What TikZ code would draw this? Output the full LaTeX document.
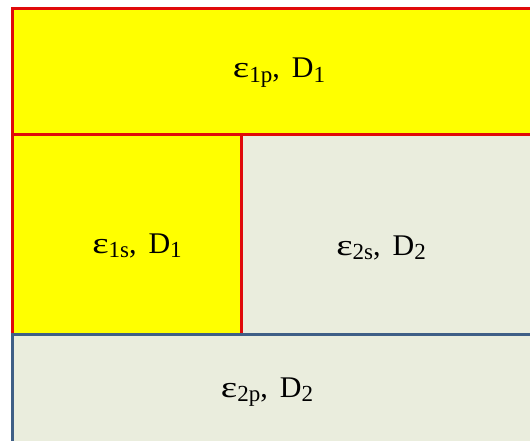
\documentclass[tikz,border=0pt]{standalone}
\usepackage{fontspec}
\setmainfont{Liberation Serif}
\usepackage{graphicx}
\usepackage{tikz}
\usetikzlibrary{positioning}

\definecolor{cellyellow}{HTML}{FFFF00}
\definecolor{cellbeige}{HTML}{EAEDDD}
\definecolor{edgered}{HTML}{E00A0A}
\definecolor{edgeblue}{HTML}{3F5F86}

% wide epsilon and lowered index
\newcommand{\epsl}{\scalebox{1.3}[1]{ε}}
\newcommand{\lowidx}[1]{\raisebox{-0.16em}{\fontsize{23}{25}\selectfont #1}}
\newcommand{\pair}[2]{\epsl\lowidx{#1},\hspace{0.4em}D\lowidx{#2}}

\begin{document}
\begin{tikzpicture}[x=1pt, y=-1pt,
        layer/.style={line width=3pt},
        redlayer/.style={layer, draw=edgered},
        bluelayer/.style={layer, draw=edgeblue},
        label/.style={anchor=base, inner sep=0pt, font=\fontsize{30}{33}\selectfont}
    ]
        \useasboundingbox (0,0) rectangle (530,441);
        \begin{scope}
        \clip (0,0) rectangle (530,441);

        % Fills
        \fill[cellyellow] (12,9) rectangle (545,135);
        \fill[cellyellow] (12,135) rectangle (241,334);
        \fill[cellbeige] (241,135) rectangle (545,334);
        \fill[cellbeige] (12,334) rectangle (545,450);

        % Outlines
        \draw[redlayer] (12,9) rectangle (545,135);
        \draw[redlayer] (12,135) rectangle (241,334);
        \draw[bluelayer] (12,334) rectangle (545,450);
        \end{scope}

        % Labels
        \node[label] (top) at (279,78) {\pair{1p}{1}};
        \node[label] (midleft) at (137,253) {\pair{1s}{1}};
        \node[label] (midright) at (381,255) {\pair{2s}{2}};
        \node[label] (bottom) at (267,397) {\pair{2p}{2}};

    \end{tikzpicture}
\end{document}
